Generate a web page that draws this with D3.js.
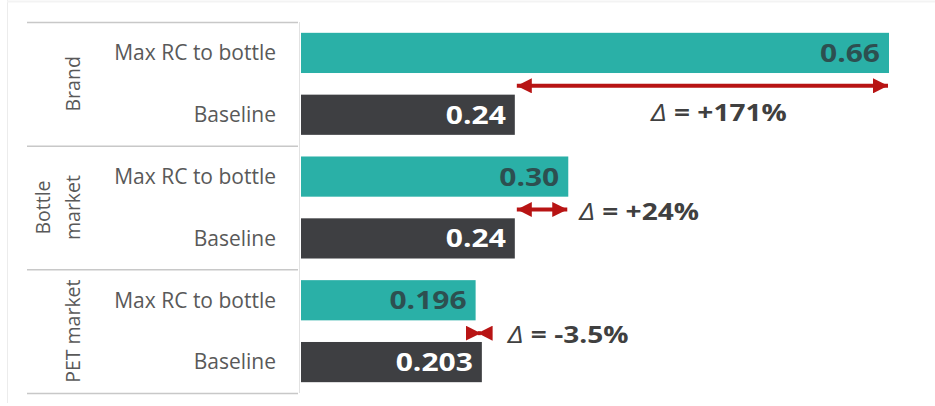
<!DOCTYPE html>
<html>
<head>
<meta charset="utf-8">
<script src="https://cdn.jsdelivr.net/npm/d3@7"></script>
<style>
  html, body { margin: 0; padding: 0; background: #ffffff; }
  svg { display: block; font-family: "Open Sans", "Noto Sans", sans-serif; }
</style>
</head>
<body>
<svg id="chart" width="935" height="406"></svg>
<script>
// ---- data ----
const groups = ["Brand", "Bottle market", "PET market"];
const groupLines = [["Brand"], ["Bottle", "market"], ["PET market"]];
const categories = ["Max RC to bottle", "Baseline"];
const maxRC = [0.66, 0.30, 0.196];
const baseline = [0.24, 0.24, 0.203];
const decimals = [2, 2, 3];
const deltaLabels = ["+171%", "+24%", "-3.5%"];

// ---- colours ----
const teal = "#2AB0A7";
const dark = "#3E3F42";
const red = "#B81414";
const grey = "#595959";

const svg = d3.select("#chart");

// rows
const rows = [];
groups.forEach((g, gi) => {
  rows.push({ id: g + "|" + categories[0], group: gi, cat: categories[0], value: maxRC[gi], kind: "max" });
  rows.push({ id: g + "|" + categories[1], group: gi, cat: categories[1], value: baseline[gi], kind: "base" });
});

const x = d3.scaleLinear().domain([0, 0.66]).range([301, 889]);
const y = d3.scaleBand().domain(rows.map(r => r.id)).range([22, 393])
  .paddingInner(0.35).paddingOuter(0.175);
const gy = d3.scaleBand().domain(groups).range([22, 393]);

// faint outer frame
svg.append("line").attr("x1", 7.5).attr("x2", 7.5).attr("y1", 0).attr("y2", 403)
  .attr("stroke", "#ececec").attr("stroke-width", 1);
svg.append("line").attr("x1", 7).attr("x2", 935).attr("y1", 1.5).attr("y2", 1.5)
  .attr("stroke", "#f3f3f3").attr("stroke-width", 2);

// group separator lines
const seps = groups.map(g => gy(g)).concat([gy.range()[1]]);
svg.selectAll("line.sep").data(seps).join("line")
  .attr("class", "sep")
  .attr("x1", 27).attr("x2", 298)
  .attr("y1", d => d + 0.5).attr("y2", d => d + 0.5)
  .attr("stroke", "#c8c8c8").attr("stroke-width", 1.5);

// vertical axis line
svg.append("line").attr("x1", 299.5).attr("x2", 299.5)
  .attr("y1", gy.range()[0]).attr("y2", gy.range()[1])
  .attr("stroke", "#e2e2e2").attr("stroke-width", 1);

// group labels (rotated)
groups.forEach((g, gi) => {
  const cy = gy(g) + gy.bandwidth() / 2;
  const lines = groupLines[gi];
  const lh = 30;
  lines.forEach((t, li) => {
    const cx = 73 - (lines.length - 1 - li) * lh;
    svg.append("text")
      .attr("transform", `translate(${cx},${cy}) rotate(-90)`)
      .attr("text-anchor", "middle")
      .attr("dy", "0.35em")
      .attr("font-size", 19.5)
      .attr("fill", grey)
      .text(t);
  });
});

// category labels
svg.selectAll("text.cat").data(rows).join("text")
  .attr("class", "cat")
  .attr("x", 276)
  .attr("y", d => y(d.id) + y.bandwidth() / 2)
  .attr("dy", "0.35em")
  .attr("text-anchor", "end")
  .attr("font-size", 21)
  .attr("fill", grey)
  .text(d => d.cat);

// bars
svg.selectAll("rect.bar").data(rows).join("rect")
  .attr("class", "bar")
  .attr("x", x(0))
  .attr("y", d => y(d.id))
  .attr("width", d => x(d.value) - x(0))
  .attr("height", y.bandwidth())
  .attr("fill", d => d.kind === "max" ? teal : dark);

// value labels (horizontally widened to match reference glyphs)
svg.selectAll("text.val").data(rows).join("text")
  .attr("class", "val")
  .attr("transform", d => `translate(${x(d.value) - 9},${y(d.id) + y.bandwidth() / 2}) scale(1.2,1)`)
  .attr("dy", "0.36em")
  .attr("text-anchor", "end")
  .attr("font-size", 25)
  .attr("font-weight", 700)
  .attr("fill", d => d.kind === "max" ? "#2D4F50" : "#ffffff")
  .text(d => d.value.toFixed(decimals[d.group]));

// arrow markers
const defs = svg.append("defs");
defs.append("marker")
  .attr("id", "ah")
  .attr("viewBox", "0 0 10 10")
  .attr("refX", 10).attr("refY", 5)
  .attr("markerUnits", "userSpaceOnUse")
  .attr("markerWidth", 15).attr("markerHeight", 15)
  .attr("orient", "auto-start-reverse")
  .append("path").attr("d", "M0,0 L10,5 L0,10 Z").attr("fill", red);

// delta arrows and labels
groups.forEach((g, gi) => {
  const rMax = rows[gi * 2], rBase = rows[gi * 2 + 1];
  const ay = (y(rMax.id) + y.bandwidth() + y(rBase.id)) / 2 + 2;
  const x1 = x(baseline[gi]), x2 = x(maxRC[gi]);
  svg.append("line")
    .attr("x1", Math.min(x1, x2) + 2).attr("x2", Math.max(x1, x2) - 1)
    .attr("y1", ay).attr("y2", ay)
    .attr("stroke", red).attr("stroke-width", 4)
    .attr("marker-start", "url(#ah)").attr("marker-end", "url(#ah)");

  const long = Math.abs(x2 - x1) > 150;
  let tx, ty, anchor;
  if (long) {
    tx = (x1 + x2) / 2 + 17; ty = y(rBase.id) + y.bandwidth() / 2 - 2; anchor = "middle";
  } else {
    tx = Math.max(x1, x2) + (gi === 2 ? 26 : 11); ty = ay + 2; anchor = "start";
  }
  const t = svg.append("text")
    .attr("transform", `translate(${tx},${ty}) scale(1.22,1)`)
    .attr("text-anchor", anchor)
    .attr("font-size", 23)
    .attr("font-weight", 700)
    .attr("fill", "#404040")
    .attr("dy", "0.36em");
  t.append("tspan").attr("font-style", "italic").attr("font-weight", 400).text("Δ");
  t.append("tspan").text(" = " + deltaLabels[gi]);
});
</script>
</body>
</html>
